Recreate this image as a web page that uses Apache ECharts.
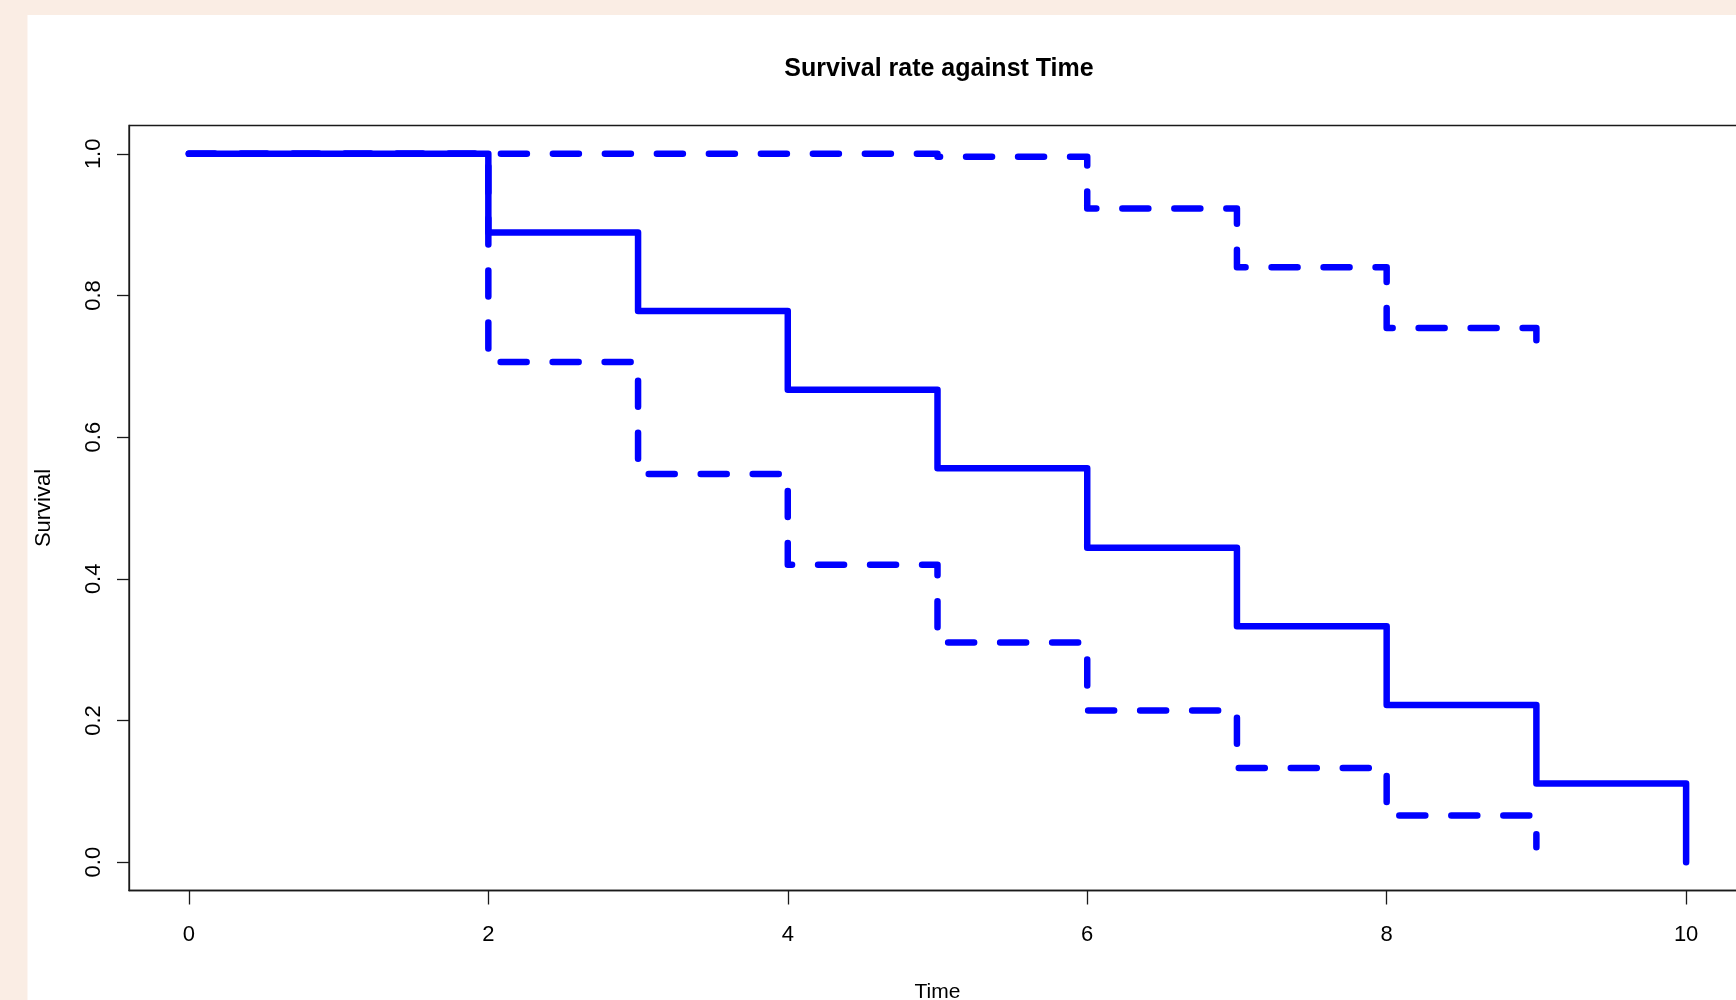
<!DOCTYPE html>
<html>
<head>
<meta charset="utf-8">
<script src="https://cdn.jsdelivr.net/npm/echarts@6/dist/echarts.min.js"></script>
<style>
  html, body { margin: 0; padding: 0; background: #FAEDE4; }
  #chart { width: 1736px; height: 1000px; }
</style>
</head>
<body>
<div id="chart"></div>
<script>
// ---- data ----
const times = [0, 2, 3, 4, 5, 6, 7, 8, 9, 10];
const survival = [1, 0.889, 0.778, 0.667, 0.556, 0.444, 0.333, 0.222, 0.111, 0];
const ciTimes = [0, 2, 3, 4, 5, 6, 7, 8, 9];
const upperCI = [1, 1, 1, 1, 0.996, 0.923, 0.840, 0.754, 0.705];
const lowerCI = [1, 0.706, 0.548, 0.420, 0.310, 0.214, 0.133, 0.066, 0.021];
const xTicks = [0, 2, 4, 6, 8, 10];
const yTicks = [0, 0.2, 0.4, 0.6, 0.8, 1.0];
const titleText = 'Survival rate against Time';
const xName = 'Time';
const yName = 'Survival';

const pair = (xs, ys) => xs.map((x, i) => [x, ys[i]]);

const chart = echarts.init(document.getElementById('chart'), null, { renderer: 'canvas' });
const FONT = "'Liberation Sans', Arial, sans-serif";
const BLUE = '#0000FF';
const AXIS = '#1a1a1a';

chart.setOption({
  animation: false,
  backgroundColor: '#FAEDE4',
  graphic: [{
    type: 'rect', z: -100, silent: true,
    shape: { x: 27.5, y: 15, width: 1736, height: 1000 },
    style: { fill: '#FFFFFF' }
  }],
  title: {
    text: titleText,
    left: 934, top: 52, textAlign: 'center',
    textStyle: { fontFamily: FONT, fontWeight: 'bold', fontSize: 25, color: '#000' }
  },
  grid: {
    left: 129, top: 125.5, width: 1617, height: 765,
    outerBoundsMode: 'none', containLabel: false,
    show: true, borderColor: AXIS, borderWidth: 1.3, backgroundColor: 'transparent'
  },
  xAxis: {
    type: 'value', min: -0.4, max: 10.4,
    name: xName, nameLocation: 'middle', nameGap: 91,
    nameTextStyle: { fontFamily: FONT, fontSize: 21, color: '#000' },
    axisLine: { show: true, onZero: false, lineStyle: { color: AXIS, width: 1.3 } },
    axisTick: { show: true, length: 14, customValues: xTicks, lineStyle: { color: AXIS, width: 1.3 } },
    axisLabel: { customValues: xTicks, margin: 33, fontFamily: FONT, fontSize: 22, color: '#000',
      formatter: v => String(v) },
    splitLine: { show: false }
  },
  yAxis: {
    type: 'value', min: -0.04, max: 1.04,
    name: yName, nameLocation: 'middle', nameGap: 74, nameRotate: 90,
    nameTextStyle: { fontFamily: FONT, fontSize: 22, color: '#000' },
    axisLine: { show: true, onZero: false, lineStyle: { color: AXIS, width: 1.3 } },
    axisTick: { show: true, length: 12, customValues: yTicks, lineStyle: { color: AXIS, width: 1.3 } },
    axisLabel: { customValues: yTicks, rotate: 90, margin: 24, fontFamily: FONT, fontSize: 22, color: '#000',
      formatter: v => v.toFixed(1) },
    splitLine: { show: false }
  },
  series: [
    {
      type: 'line', step: 'end', symbol: 'none', data: pair(ciTimes, upperCI), z: 3,
      lineStyle: { color: BLUE, width: 6.5, type: [26, 26], dashOffset: 0, cap: 'round', join: 'round' }
    },
    {
      type: 'line', step: 'end', symbol: 'none', data: pair(ciTimes, lowerCI), z: 3,
      lineStyle: { color: BLUE, width: 6.5, type: [26, 26], dashOffset: 0, cap: 'round', join: 'round' }
    },
    {
      type: 'line', step: 'end', symbol: 'none', data: pair(times, survival), z: 4,
      lineStyle: { color: BLUE, width: 6.5, type: 'solid', cap: 'round', join: 'round' }
    }
  ]
});
</script>
</body>
</html>
